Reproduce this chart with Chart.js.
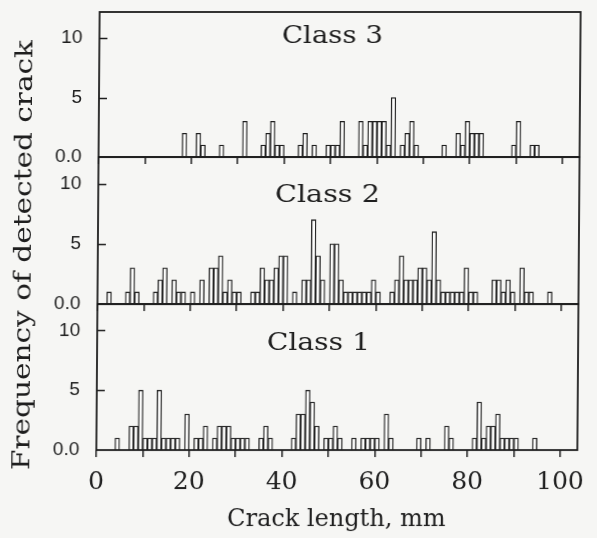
<!DOCTYPE html>
<html>
<head>
<meta charset="utf-8">
<script src="https://cdn.jsdelivr.net/npm/chart.js@4.4.1/dist/chart.umd.min.js"></script>
<style>
  html, body { margin: 0; padding: 0; background: #f6f6f4; }
  #fig { position: relative; width: 597px; height: 538px; overflow: hidden;
         transform: skewX(-0.43deg); transform-origin: 0 230px; }
  canvas { position: absolute; left: 0; }
  #c3 { top: 0; }
  #c2 { top: 147px; }
  #c1 { top: 294px; }
  svg { position: absolute; left: 0; top: 0; }
  svg text { fill: #1e1e1e; font-family: "DejaVu Serif", serif; }
</style>
</head>
<body>
<div id="fig">
  <canvas id="c3" width="597" height="167"></canvas>
  <canvas id="c2" width="597" height="167"></canvas>
  <canvas id="c1" width="597" height="244"></canvas>
  <svg width="597" height="538">
    <text id="t3" x="280.5" y="43" font-size="25" textLength="101" lengthAdjust="spacingAndGlyphs"></text>
    <text id="t2" x="274.7" y="201.5" font-size="25" textLength="105" lengthAdjust="spacingAndGlyphs"></text>
    <text id="t1" x="267.8" y="350" font-size="25" textLength="103" lengthAdjust="spacingAndGlyphs"></text>
    <text id="ytitle" transform="translate(31,470) rotate(-90)" font-size="25" textLength="430" lengthAdjust="spacingAndGlyphs"></text>
  </svg>
</div>
<script>
// ---- data ----
const BIN_WIDTH = 1; // mm

const class3Lengths = [18,21,22,26,31,35,36,37,38,39,43,44,46,49,50,51,52,56,57,58,59,60,61,62,63,65,66,67,68,74,77,78,79,80,81,82,89,90,93,94];
const class3Counts  = [2,2,1,1,3,1,2,3,1,1,1,2,1,1,1,1,3,3,1,3,3,3,3,1,5,1,2,3,1,1,2,1,3,2,2,2,1,3,1,1];

const class2Lengths = [2,6,7,8,12,13,14,16,17,18,20,22,24,25,26,27,28,29,30,33,34,35,36,37,38,39,40,42,44,45,46,47,48,50,51,52,53,54,55,56,57,58,59,60,63,64,65,66,67,68,69,70,71,72,73,74,75,76,77,78,79,80,81,85,86,87,88,89,91,92,93,97];
const class2Counts  = [1,1,3,1, 1,2,3, 2,1,1, 1, 2, 3,3,4,1,2,1,1, 1,1,3,2,2,3,4,4, 1, 2,2,7,4,2, 5,5,2,1,1,1,1,1,1,2,1, 1,2,4,2,2,2,3,3,2,6,2,1,1,1,1,1,3,1,1, 2,2,1,2,1, 3,1,1, 1];

const class1Lengths = [4,7,8,9,10,11,12,13,14,15,16,17,19,21,22,23,25,26,27,28,29,30,31,32,35,36,37,42,43,44,45,46,47,49,50,51,52,55,57,58,59,60,62,63,69,71,75,76,81,82,83,84,85,86,87,88,89,90,94];
const class1Counts  = [1,2,2,5,1,1,1,5,1,1,1,1,3,1,1,2,1,2,2,2,1,1,1,1,1,2,1,1,3,3,5,4,2,1,1,2,1,1,1,1,1,1,3,1,1,1,2,1,1,4,1,2,2,3,1,1,1,1,1];

const panelTitles = ['Class 3', 'Class 2', 'Class 1'];
const xTickValues = [0,10,20,30,40,50,60,70,80,90,100];
const xTickLabels = ['0','','20','','40','','60','','80','','100'];
const yTickValues = [0,5,10];
const yTickLabels = ['0.0','5','10'];
const xTitle = 'Crack length, mm';
const yTitle = 'Frequency of detected crack';

// ---- style ----
const INK = '#1e1e1e';
const SERIF = '"DejaVu Serif", serif';
const SANS = '"Liberation Sans", Arial, sans-serif';
const X_MIN = 0, X_MAX = 103.7, Y_MIN = 0, Y_MAX = 12.2;

document.getElementById('t3').textContent = panelTitles[0];
document.getElementById('t2').textContent = panelTitles[1];
document.getElementById('t1').textContent = panelTitles[2];
document.getElementById('ytitle').textContent = yTitle;

const framePlugin = {
  id: 'frame',
  afterDraw(chart) {
    const { ctx, chartArea: a } = chart;
    const y = chart.scales.y;
    ctx.save();
    ctx.strokeStyle = INK;
    ctx.lineWidth = 1.8;
    ctx.strokeRect(a.left, a.top, a.right - a.left, a.bottom - a.top);
    ctx.lineWidth = 1.5;
    y.ticks.forEach(t => {
      if (t.value > 0) {
        const py = Math.round(y.getPixelForValue(t.value)) + 0.5;
        ctx.beginPath();
        ctx.moveTo(a.left, py);
        ctx.lineTo(a.left + 8, py);
        ctx.stroke();
      }
    });
    ctx.restore();
  }
};

function noPad(s) { s.paddingTop = 0; s.paddingBottom = 0; s.paddingLeft = 0; s.paddingRight = 0; }

function makePanel(id, lengths, counts, o) {
  const data = lengths.map((l, i) => ({ x: l + BIN_WIDTH / 2, y: counts[i] }));
  return new Chart(document.getElementById(id), {
    type: 'bar',
    data: {
      datasets: [{
        data,
        backgroundColor: '#fdfdfc',
        borderColor: INK,
        borderWidth: 1.3,
        categoryPercentage: 1,
        barPercentage: 1
      }]
    },
    options: {
      responsive: false,
      animation: false,
      devicePixelRatio: 1,
      layout: { autoPadding: false, padding: { top: o.padTop, right: 18, left: 0, bottom: 0 } },
      plugins: { legend: { display: false }, tooltip: { enabled: false }, title: { display: false } },
      scales: {
        x: {
          type: 'linear', min: X_MIN, max: X_MAX, offset: false,
          afterBuildTicks: s => { s.ticks = xTickValues.map(v => ({ value: v })); },
          afterFit: s => { s.height = o.xHeight; noPad(s); },
          grid: { display: true, offset: false, drawOnChartArea: false, drawTicks: true, tickLength: 7, color: INK, lineWidth: 1.5 },
          border: { display: false },
          ticks: {
            display: o.showX, autoSkip: false, maxRotation: 0, includeBounds: false,
            padding: 10, color: INK, font: { family: SERIF, size: 25 },
            callback: v => { const i = xTickValues.indexOf(v); return i >= 0 ? xTickLabels[i] : ''; }
          },
          title: o.showX ? { display: true, text: xTitle, color: INK, font: { family: SERIF, size: 24 }, padding: { top: 0, bottom: 4 } } : { display: false }
        },
        y: {
          min: Y_MIN, max: Y_MAX,
          afterBuildTicks: s => { s.ticks = yTickValues.map(v => ({ value: v })); },
          afterFit: s => { s.width = 98; noPad(s); },
          grid: { display: false },
          border: { display: false },
          ticks: {
            padding: 9, color: INK, font: { family: SANS, size: 19 },
            callback: v => { const i = yTickValues.indexOf(v); return i >= 0 ? yTickLabels[i] : ''; }
          }
        }
      }
    },
    plugins: [framePlugin]
  });
}

makePanel('c3', class3Lengths, class3Counts, { padTop: 12, xHeight: 10, showX: false });
makePanel('c2', class2Lengths, class2Counts, { padTop: 10, xHeight: 10, showX: false });
makePanel('c1', class1Lengths, class1Counts, { padTop: 10, xHeight: 88, showX: true });
</script>
</body>
</html>
